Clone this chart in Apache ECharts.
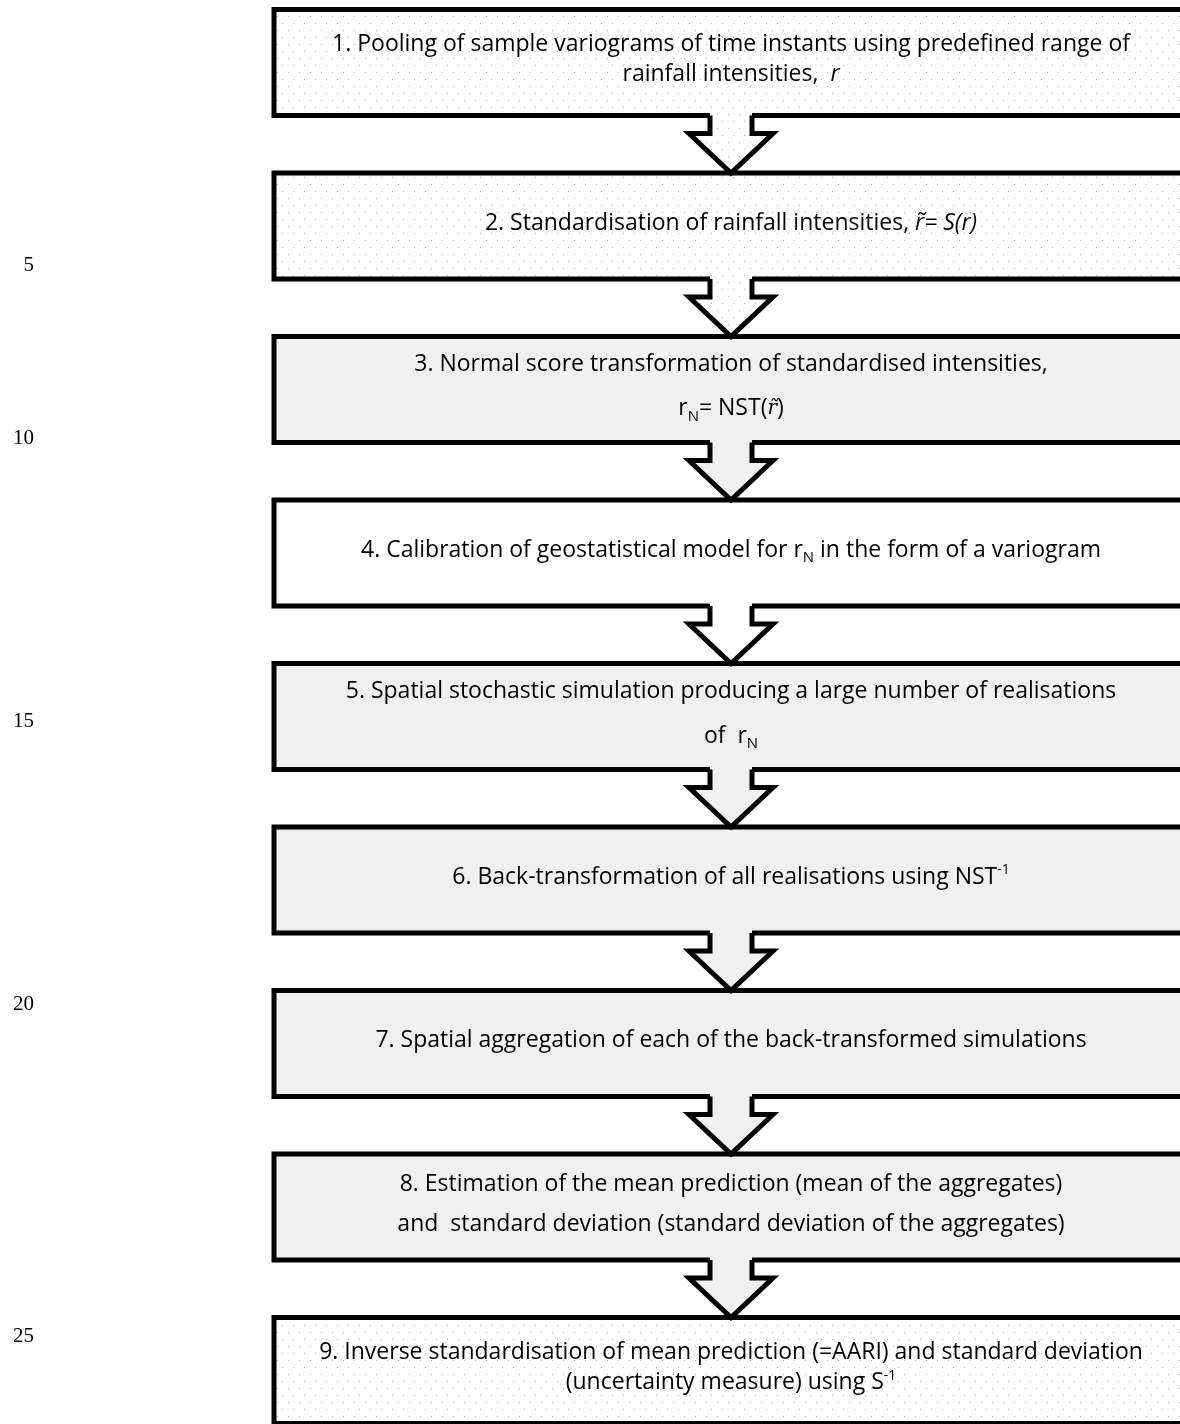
<!DOCTYPE html>
<html>
<head>
<meta charset="utf-8">
<title>Flow of the AARI estimation</title>
<script src="https://cdn.jsdelivr.net/npm/echarts@6/dist/echarts.min.js"></script>
<style>
  html, body { margin: 0; padding: 0; background: #fff; }
  #chart { width: 1180px; height: 1424px; }
</style>
</head>
<body>
<div id="chart"></div>
<script>
// step texts (rich-text markup: it = italic, sub = subscript, sup = superscript, m = math italic)
var stepLabels = [
  '1. Pooling of sample variograms of time instants using predefined range of\nrainfall intensities,  {it|r}',
  '2. Standardisation of rainfall intensities, {it|r\u0303= S(r)}',
  '3. Normal score transformation of standardised intensities,\nr{sub|N}= NST({m|r\u0303})',
  '4. Calibration of geostatistical model for r{sub|N} in the form of a variogram',
  '5. Spatial stochastic simulation producing a large number of realisations\nof  r{sub|N}',
  '6. Back-transformation of all realisations using NST{sup|-1}',
  '7. Spatial aggregation of each of the back-transformed simulations',
  '8. Estimation of the mean prediction (mean of the aggregates)\nand  standard deviation (standard deviation of the aggregates)',
  '9. Inverse standardisation of mean prediction (=AARI) and standard deviation\n(uncertainty measure) using S{sup|-1}'
];
// manuscript line numbers in the margin and the step row they sit at
var lineNumbers = ['5', '10', '15', '20', '25'];
var lineNumberRows = [1.24, 2.30, 4.03, 5.76, 7.79];

// look of each box
var stepFill = ['dots', 'dots', 'gray', 'white', 'gray', 'gray', 'gray', 'gray', 'dots'];
var stepLineHeight = [30, 30, 44, 30, 45, 30, 30, 40, 30];

var FONT = '"Open Sans", "Noto Sans", sans-serif';
var FS = 23;
var BOX_LEFT = 274, BOX_RIGHT = 1188, CX = 731;
var HALF = 0.324;           // half box height, in steps
var STEM = 21, HEAD = 42, WING = 18;

// dotted pattern like the office "5%" fill
function dotPattern() {
  var c = document.createElement('canvas');
  c.width = 11; c.height = 14;
  var ctx = c.getContext('2d');
  ctx.fillStyle = '#ffffff';
  ctx.fillRect(0, 0, 11, 14);
  ctx.fillStyle = '#b5b5b5';
  ctx.fillRect(2, 2, 1, 1);
  ctx.fillRect(7, 9, 1, 1);
  return c;
}
var dots = { image: dotPattern(), repeat: 'repeat' };
function fillOf(kind) {
  if (kind === 'dots') return dots;
  if (kind === 'gray') return '#f0f0f0';
  return '#ffffff';
}

var rich = {
  it: { fontFamily: FONT, fontSize: FS, fontStyle: 'italic', fill: '#000' },
  m: { fontFamily: '"DejaVu Serif", serif', fontSize: 20, fontStyle: 'italic', fill: '#000' },
  sub: { fontFamily: FONT, fontSize: 15, fill: '#000', padding: [16, 0, 0, 0] },
  sup: { fontFamily: FONT, fontSize: 14, fill: '#000', padding: [0, 0, 14, 0] }
};

var chart = echarts.init(document.getElementById('chart'));

var option = {
  animation: false,
  grid: { left: 0, right: 0, top: 0, bottom: 0 },
  xAxis: { type: 'value', min: 0, max: 1180, show: false },
  yAxis: { type: 'value', inverse: true, min: -0.3823, max: 8.327, show: false },
  series: [
    {
      // the nine boxes
      type: 'custom',
      z: 2,
      data: stepLabels.map(function (t, i) { return [i]; }),
      encode: { y: 0 },
      renderItem: function (params, api) {
        var i = api.value(0);
        var tl = api.coord([BOX_LEFT, i - HALF]);
        var br = api.coord([BOX_RIGHT, i + HALF]);
        var mid = api.coord([CX, i]);
        return {
          type: 'group',
          children: [
            {
              type: 'rect',
              shape: { x: tl[0], y: tl[1], width: br[0] - tl[0], height: br[1] - tl[1] },
              style: { fill: fillOf(stepFill[i]), stroke: '#000', lineWidth: 5 }
            },
            {
              type: 'text',
              style: {
                text: stepLabels[i],
                x: mid[0], y: mid[1] - 3,
                align: 'center', verticalAlign: 'middle',
                fontFamily: FONT, fontSize: FS, fill: '#000',
                lineHeight: stepLineHeight[i],
                rich: rich
              }
            }
          ]
        };
      }
    },
    {
      // block arrows between the boxes
      type: 'custom',
      z: 3,
      data: stepLabels.slice(1).map(function (t, i) { return [i]; }),
      encode: { y: 0 },
      renderItem: function (params, api) {
        var i = api.value(0);
        var b = api.coord([CX, i + HALF]);
        var t = api.coord([CX, i + 1 - HALF]);
        var x = b[0], by = b[1], ty = t[1], wy = by + WING;
        return {
          type: 'group',
          children: [
            {
              type: 'polygon',
              shape: { points: [[x - STEM, by - 4], [x - STEM, wy], [x - HEAD, wy], [x, ty], [x + HEAD, wy], [x + STEM, wy], [x + STEM, by - 4]] },
              style: { fill: fillOf(stepFill[i]), stroke: null }
            },
            {
              type: 'polyline',
              shape: { points: [[x - STEM, by], [x - STEM, wy], [x - HEAD, wy], [x, ty], [x + HEAD, wy], [x + STEM, wy], [x + STEM, by]] },
              style: { fill: null, stroke: '#000', lineWidth: 5, lineJoin: 'miter' }
            }
          ]
        };
      }
    },
    {
      // margin line numbers
      type: 'custom',
      z: 1,
      data: lineNumberRows.map(function (r, i) { return [r, i]; }),
      encode: { y: 0 },
      renderItem: function (params, api) {
        var p = api.coord([34, api.value(0)]);
        return {
          type: 'text',
          style: {
            text: lineNumbers[api.value(1)],
            x: p[0], y: p[1],
            align: 'right', verticalAlign: 'middle',
            fontFamily: '"Liberation Serif", "Times New Roman", serif',
            fontSize: 21, fill: '#000'
          }
        };
      }
    }
  ]
};

chart.setOption(option);
</script>
</body>
</html>
